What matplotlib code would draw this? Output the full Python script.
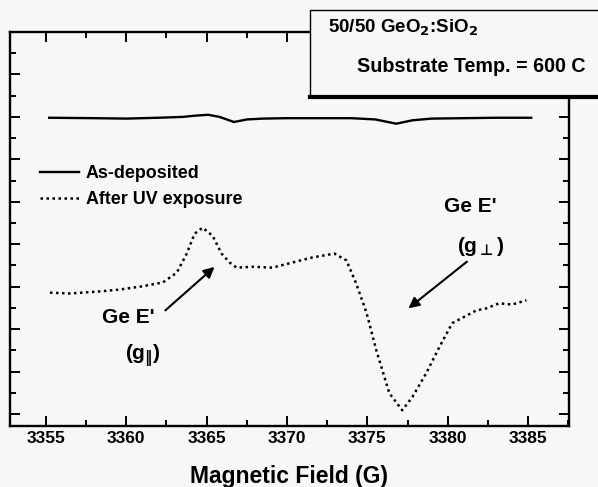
import numpy as np
import matplotlib
matplotlib.use("Agg")
import matplotlib.pyplot as plt
from matplotlib.patches import Rectangle
from matplotlib.ticker import MultipleLocator

plt.rcParams['font.family'] = ['Liberation Sans', 'DejaVu Sans']
plt.rcParams['font.weight'] = 'bold'
plt.rcParams['mathtext.fontset'] = 'dejavusans'
plt.rcParams['mathtext.default'] = 'bf'

# as-deposited trace (arbitrary units)
field_dep = [3355.2, 3358.0, 3360.0, 3362.0, 3363.5, 3364.3, 3365.1, 3365.8, 3366.7,
             3367.5, 3368.5, 3370.0, 3372.0, 3374.0, 3375.5, 3376.8, 3377.8, 3379.0,
             3381.0, 3383.0, 3385.2]
sig_dep = [6.98, 6.97, 6.96, 6.98, 7.00, 7.03, 7.05, 7.00, 6.88,
           6.94, 6.96, 6.97, 6.97, 6.97, 6.94, 6.84, 6.92, 6.96,
           6.97, 6.98, 6.98]

# after UV exposure trace
field_uv = [3355.25, 3356.5, 3358.35, 3359.5, 3360.84, 3362.27, 3363.14, 3363.76, 3364.25,
            3364.75, 3365.37, 3365.93, 3366.43, 3366.86, 3367.86, 3369.1, 3370.34, 3371.58,
            3372.95, 3373.7, 3374.3, 3374.94, 3375.56, 3376.37, 3377.17, 3377.8, 3378.66,
            3379.47, 3380.28, 3381.77, 3382.4, 3383.2, 3384.0, 3384.9]
sig_uv = [2.86, 2.84, 2.89, 2.93, 3.00, 3.10, 3.33, 3.78, 4.25,
          4.39, 4.20, 3.78, 3.57, 3.45, 3.47, 3.45, 3.57, 3.69,
          3.78, 3.62, 3.08, 2.40, 1.50, 0.49, 0.09, 0.40, 0.96,
          1.57, 2.14, 2.44, 2.49, 2.61, 2.58, 2.68]

fig = plt.figure(figsize=(5.98, 4.87), dpi=100)
fig.patch.set_facecolor('#f7f7f7')
ax = fig.add_axes([0.0167, 0.1253, 0.9348, 0.809])
ax.set_facecolor('#f7f7f7')

ax.plot(field_dep, sig_dep, color='black', lw=1.7, label='As-deposited')
ax.plot(field_uv, sig_uv, color='black', lw=1.8, ls=(0, (1, 1.4)), label='After UV exposure')

ax.set_xlim(3352.76, 3387.55)
ax.set_ylim(-0.28, 9)
ax.xaxis.set_major_locator(MultipleLocator(5))
ax.xaxis.set_minor_locator(MultipleLocator(2.5))
ax.yaxis.set_major_locator(MultipleLocator(1))
ax.yaxis.set_minor_locator(MultipleLocator(0.5))
ax.tick_params(which='both', direction='in', top=True, right=True, width=1.4)
ax.tick_params(which='major', length=7, labelsize=12.5)
ax.tick_params(which='minor', length=4)
ax.tick_params(axis='y', labelleft=False)
for s in ax.spines.values():
    s.set_linewidth(1.7)

ax.set_xlabel('Magnetic Field (G)', fontsize=16.5, fontweight='bold', labelpad=14)

ax.legend(loc='upper left', bbox_to_anchor=(0.0537, 0.662), frameon=False, fontsize=12.9,
          handlelength=2.2, handletextpad=0.35, labelspacing=0.5,
          borderpad=0, borderaxespad=0)

ax.annotate('', xy=(3365.62, 3.51), xytext=(3362.3, 2.4),
            arrowprops=dict(arrowstyle='-|>', color='black', lw=1.5, mutation_scale=16))
ax.text(3360.1, 2.28, "Ge E'", fontsize=15, fontweight='bold', ha='center', va='center')
ax.text(3361.05, 1.35, r'(g$_{\Vert}$)', fontsize=15, ha='center', va='center')

ax.annotate('', xy=(3377.42, 2.45), xytext=(3381.33, 3.63),
            arrowprops=dict(arrowstyle='-|>', color='black', lw=1.5, mutation_scale=16))
ax.text(3381.4, 4.9, "Ge E'", fontsize=15, fontweight='bold', ha='center', va='center')
ax.text(3382.1, 3.95, r'(g$_{{\bot}}$)', fontsize=15, ha='center', va='center')

# sample info box in the upper right corner
box = Rectangle((310 / 598, 1 - 97 / 487), 0.6, 87 / 487, transform=fig.transFigure,
                facecolor='#f7f7f7', edgecolor='black', lw=1.0, zorder=5, clip_on=False)
fig.patches.append(box)
fig.add_artist(plt.Line2D([310 / 598, 1.0], [1 - 97 / 487, 1 - 97 / 487],
                          transform=fig.transFigure, color='black', lw=3, zorder=6))
fig.text(328 / 598, 1 - 28 / 487, r'50/50 GeO$_2$:SiO$_2$', fontsize=13.5,
         ha='left', va='center', zorder=7)
fig.text(357 / 598, 1 - 67 / 487, 'Substrate Temp. = 600 C', fontsize=14.2,
         fontweight='bold', ha='left', va='center', zorder=7)

fig.savefig('out.png', dpi=100, facecolor=fig.get_facecolor())
